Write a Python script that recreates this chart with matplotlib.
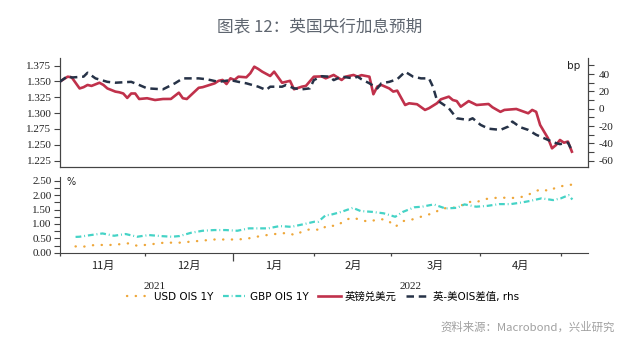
import numpy as np
import matplotlib
matplotlib.use('Agg')
import matplotlib.pyplot as plt
from matplotlib.lines import Line2D
from matplotlib.ticker import MultipleLocator, FormatStrFormatter
import matplotlib.transforms as mtrans

plt.rcParams['font.family'] = ['Liberation Serif', 'Noto Sans CJK SC']
plt.rcParams['axes.unicode_minus'] = False

# ---------------- data ----------------
gbpusd_dates = ['2021-11-05', '2021-11-09', '2021-11-10', '2021-11-12', '2021-11-15', '2021-11-16',
                '2021-11-17', '2021-11-19', '2021-11-22', '2021-11-23', '2021-11-25', '2021-11-26',
                '2021-11-29', '2021-11-30', '2021-12-01', '2021-12-02', '2021-12-03', '2021-12-07',
                '2021-12-09', '2021-12-13', '2021-12-15', '2021-12-17', '2021-12-20', '2021-12-21',
                '2021-12-24', '2021-12-27', '2021-12-28', '2021-12-30', '2021-12-31', '2022-01-03',
                '2022-01-04', '2022-01-05', '2022-01-06', '2022-01-07', '2022-01-11', '2022-01-12',
                '2022-01-13', '2022-01-14', '2022-01-17', '2022-01-19', '2022-01-20', '2022-01-24',
                '2022-01-26', '2022-01-27', '2022-01-31', '2022-02-01', '2022-02-03', '2022-02-07',
                '2022-02-08', '2022-02-10', '2022-02-14', '2022-02-15', '2022-02-17', '2022-02-18',
                '2022-02-21', '2022-02-23', '2022-02-24', '2022-02-25', '2022-02-28', '2022-03-02',
                '2022-03-03', '2022-03-04', '2022-03-08', '2022-03-09', '2022-03-11', '2022-03-15',
                '2022-03-16', '2022-03-18', '2022-03-21', '2022-03-23', '2022-03-24', '2022-03-25',
                '2022-03-28', '2022-03-30', '2022-04-01', '2022-04-06', '2022-04-07', '2022-04-11',
                '2022-04-12', '2022-04-15', '2022-04-20', '2022-04-21', '2022-04-22', '2022-04-25',
                '2022-04-27', '2022-04-28', '2022-04-29', '2022-05-02', '2022-05-03', '2022-05-04',
                '2022-05-05']
gbpusd = [1.3497, 1.3576, 1.3566, 1.339, 1.341, 1.3445,
          1.343, 1.348, 1.3445, 1.339, 1.334, 1.3329,
          1.331, 1.324, 1.331, 1.331, 1.3223, 1.3235,
          1.3207, 1.3223, 1.3224, 1.3323, 1.3235, 1.3223,
          1.340, 1.341, 1.343, 1.347, 1.351, 1.3524,
          1.346, 1.355, 1.3524, 1.3576, 1.3566, 1.363,
          1.3734, 1.3698, 1.3655, 1.3587, 1.3655, 1.348,
          1.351, 1.3377, 1.3418, 1.343, 1.3576, 1.358,
          1.355, 1.3603, 1.3524, 1.3576, 1.3603, 1.3576,
          1.360, 1.3576, 1.3298, 1.342, 1.3445, 1.339,
          1.334, 1.3355, 1.3128, 1.3155, 1.314, 1.305,
          1.3077, 1.3155, 1.3218, 1.326, 1.3207, 1.319,
          1.3101, 1.319, 1.3128, 1.3144, 1.3092, 1.302,
          1.305, 1.3065, 1.2997, 1.305, 1.302, 1.2812,
          1.2601, 1.2443, 1.2495, 1.2575, 1.2532, 1.255,
          1.239]

spread_dates = ['2021-11-05', '2021-11-09', '2021-11-10', '2021-11-15', '2021-11-16', '2021-11-18',
                '2021-11-23', '2021-11-25', '2021-12-01', '2021-12-03', '2021-12-07', '2021-12-13',
                '2021-12-16', '2021-12-20', '2021-12-24', '2021-12-28', '2021-12-31', '2022-01-05',
                '2022-01-07', '2022-01-11', '2022-01-14', '2022-01-18', '2022-01-19', '2022-01-24',
                '2022-01-25', '2022-01-27', '2022-01-31', '2022-02-02', '2022-02-03', '2022-02-07',
                '2022-02-09', '2022-02-10', '2022-02-14', '2022-02-17', '2022-02-18', '2022-02-21',
                '2022-02-23', '2022-02-25', '2022-02-28', '2022-03-02', '2022-03-04', '2022-03-08',
                '2022-03-10', '2022-03-14', '2022-03-16', '2022-03-17', '2022-03-18', '2022-03-23',
                '2022-03-25', '2022-03-30', '2022-03-31', '2022-04-04', '2022-04-06', '2022-04-11',
                '2022-04-13', '2022-04-14', '2022-04-18', '2022-04-20', '2022-04-22', '2022-04-26',
                '2022-04-27', '2022-04-29', '2022-05-02', '2022-05-04', '2022-05-05']
spread = [31, 37.7, 36, 37, 41.5, 35,
          31, 30, 31, 27.4, 23.5, 22.4,
          29.3, 35, 35, 34, 31, 33,
          31, 29.3, 25.4, 21.6, 25.4, 25.4,
          27.4, 23.5, 22.4, 23.5, 33, 37.5,
          37, 33, 37, 35, 37, 34,
          29.3, 23.5, 29.3, 31, 34, 42.6,
          37, 35, 35, 25.4, 10, 0.6,
          -11, -13, -11, -18.6, -23, -24.4,
          -20.5, -14.8, -21.3, -24.4, -30, -34,
          -36, -39.6, -40.8, -39, -48]

usd_dates = ['2021-11-05', '2021-11-09', '2021-11-12', '2021-11-18', '2021-11-22', '2021-11-25',
             '2021-11-29', '2021-12-03', '2021-12-08', '2021-12-14', '2021-12-21', '2021-12-27',
             '2022-01-03', '2022-01-06', '2022-01-12', '2022-01-17', '2022-01-21', '2022-01-25',
             '2022-01-27', '2022-01-31', '2022-02-03', '2022-02-04', '2022-02-09', '2022-02-11',
             '2022-02-15', '2022-02-17', '2022-02-21', '2022-02-24', '2022-02-28', '2022-03-02',
             '2022-03-04', '2022-03-08', '2022-03-10', '2022-03-14', '2022-03-16', '2022-03-18',
             '2022-03-23', '2022-03-25', '2022-03-29', '2022-03-31', '2022-04-04', '2022-04-06',
             '2022-04-08', '2022-04-13', '2022-04-15', '2022-04-19', '2022-04-21', '2022-04-25',
             '2022-04-27', '2022-04-29', '2022-05-03', '2022-05-05']
usd_ois = [0.22, 0.21, 0.27, 0.27, 0.29, 0.33,
           0.24, 0.30, 0.35, 0.35, 0.41, 0.46,
           0.46, 0.475, 0.58, 0.64, 0.69, 0.61,
           0.75, 0.82, 0.79, 0.93, 0.94, 1.14,
           1.22, 1.14, 1.08, 1.17, 1.14, 0.90,
           1.10, 1.14, 1.22, 1.31, 1.37, 1.54,
           1.56, 1.63, 1.77, 1.75, 1.86, 1.89,
           1.92, 1.90, 1.92, 1.97, 2.12, 2.21,
           2.14, 2.29, 2.33, 2.37]

gbp_dates = ['2021-11-05', '2021-11-08', '2021-11-11', '2021-11-16', '2021-11-19', '2021-11-24',
             '2021-11-29', '2021-12-02', '2021-12-07', '2021-12-10', '2021-12-14', '2021-12-17',
             '2021-12-22', '2021-12-27', '2021-12-30', '2022-01-04', '2022-01-07', '2022-01-11',
             '2022-01-14', '2022-01-19', '2022-01-24', '2022-01-27', '2022-02-01', '2022-02-02',
             '2022-02-04', '2022-02-07', '2022-02-10', '2022-02-15', '2022-02-17', '2022-02-22',
             '2022-02-25', '2022-03-02', '2022-03-04', '2022-03-09', '2022-03-11', '2022-03-16',
             '2022-03-21', '2022-03-24', '2022-03-28', '2022-03-31', '2022-04-05', '2022-04-08',
             '2022-04-13', '2022-04-18', '2022-04-20', '2022-04-25', '2022-04-28', '2022-05-02',
             '2022-05-04', '2022-05-05']
gbp_ois = [0.55, 0.556, 0.615, 0.67, 0.59, 0.65,
           0.556, 0.615, 0.58, 0.556, 0.58, 0.694,
           0.764, 0.788, 0.788, 0.764, 0.847, 0.847,
           0.847, 0.927, 0.90, 0.986, 1.077, 1.077,
           1.31, 1.31, 1.42, 1.56, 1.45, 1.42,
           1.37, 1.25, 1.42, 1.58, 1.60, 1.68,
           1.54, 1.56, 1.68, 1.60, 1.63, 1.69,
           1.69, 1.75, 1.80, 1.89, 1.83, 1.89,
           2.00, 1.85]

month_starts = ['2021-11-01', '2021-12-01', '2022-01-03', '2022-02-01',
                '2022-03-01', '2022-04-01', '2022-05-02']
month_labels = ['11月', '12月', '1月', '2月', '3月', '4月']
year_labels = ['2021', '2022']
axis_start, axis_end = '2021-11-05', '2022-05-11'

series_names = ['USD OIS 1Y', 'GBP OIS 1Y', '英镑兑美元', '英-美OIS差值, rhs']

title = '图表 12：英国央行加息预期'
source = '资料来源：Macrobond，兴业研究'

# ---------------- helpers ----------------
ORIGIN = '2021-11-01'


def bidx(dates):
    return np.busday_count(ORIGIN, np.array(dates, dtype='datetime64[D]')).astype(float)


c_red = '#c0314b'
c_navy = '#263247'
c_usd = '#eea73a'
c_gbp = '#45d3c6'
c_axis = '#444444'

usd_style = dict(color=c_usd, lw=1.7, linestyle=(0, (0.1, 3.6)), dash_capstyle='round')
gbp_style = dict(color=c_gbp, lw=1.6, linestyle=(0, (2.6, 1.3, 0.4, 1.3)))
red_style = dict(color=c_red, lw=1.9)
navy_style = dict(color=c_navy, lw=1.8, linestyle=(0, (3.0, 1.9)))

fig = plt.figure(figsize=(6.4, 3.52), dpi=100)
ax1 = fig.add_axes([0.094, 0.526, 0.825, 0.309])
ax2 = ax1.twinx()
ax3 = fig.add_axes([0.094, 0.282, 0.825, 0.215])

xl = (bidx([axis_start])[0] + 0.1, bidx([axis_end])[0] + 0.1)

# top panel
ax1.plot(bidx(gbpusd_dates), gbpusd, **red_style, zorder=3)
ax2.plot(bidx(spread_dates), spread, **navy_style, zorder=3)
ax1.set_xlim(*xl)
ax1.set_ylim(1.215, 1.387)
ax2.set_ylim(-67, 58.4)
ax1.yaxis.set_major_locator(MultipleLocator(0.025))
ax1.yaxis.set_major_formatter(FormatStrFormatter('%.3f'))
ax2.yaxis.set_major_locator(MultipleLocator(20))
ax2.yaxis.set_minor_locator(MultipleLocator(10))
ax1.set_xticks([])
for ax in (ax1, ax2):
    ax.spines['top'].set_visible(False)
    for s in ax.spines.values():
        s.set_color(c_axis)
        s.set_linewidth(0.8)
ax1.tick_params(axis='y', direction='out', length=4.3, width=0.8, color=c_axis,
                labelsize=8, pad=2, labelcolor='#222222')
ax2.tick_params(axis='y', which='both', direction='out', length=4.3, width=0.8, color=c_axis,
                labelsize=8, pad=3, labelcolor='#222222')
ax2.text(0.985, 0.93, 'bp', transform=ax2.transAxes, ha='right', va='center',
         fontsize=7.5, family=['DejaVu Sans'], color='#222222')

# bottom panel
ax3.plot(bidx(usd_dates), usd_ois, **usd_style)
ax3.plot(bidx(gbp_dates), gbp_ois, **gbp_style)
ax3.set_xlim(*xl)
ax3.set_ylim(0, 2.63)
ax3.yaxis.set_major_locator(MultipleLocator(0.5))
ax3.yaxis.set_minor_locator(MultipleLocator(0.25))
ax3.yaxis.set_major_formatter(FormatStrFormatter('%.2f'))
ax3.spines['top'].set_visible(False)
ax3.spines['right'].set_visible(False)
for s in ax3.spines.values():
    s.set_color(c_axis)
    s.set_linewidth(0.8)
ax3.tick_params(axis='y', which='both', direction='out', length=4.3, width=0.8, color=c_axis,
                labelsize=8, pad=2, labelcolor='#222222')
ms = bidx(month_starts)
year_break = bidx(['2022-01-03'])[0]
ax3.set_xticks([m for m in ms if m != year_break])
ax3.set_xticks([year_break], minor=True)
ax3.tick_params(axis='x', which='major', direction='out', length=2.5, width=0.9,
                color=c_axis, labelbottom=False)
ax3.tick_params(axis='x', which='minor', direction='out', length=5.5, width=0.9,
                color=c_axis, labelbottom=False)
ax3.text(0.012, 0.93, '%', transform=ax3.transAxes, ha='left', va='center',
         fontsize=7, family=['DejaVu Sans'], color='#222222')

trans = mtrans.blended_transform_factory(ax3.transData, ax3.transAxes)
for i, lab in enumerate(month_labels):
    ax3.text((ms[i] + ms[i + 1]) / 2, -0.17, lab, transform=trans, ha='center', va='center',
             fontsize=8, color='#222222', family=['Noto Sans CJK SC'])
ax3.text((xl[0] + year_break) / 2, -0.44, year_labels[0], transform=trans, ha='center',
         va='center', fontsize=8, color='#222222')
ax3.text((year_break + xl[1]) / 2, -0.44, year_labels[1], transform=trans, ha='center',
         va='center', fontsize=8, color='#222222')

# legend
handles = [Line2D([], [], **usd_style), Line2D([], [], **gbp_style),
           Line2D([], [], **red_style), Line2D([], [], **navy_style)]
fig.legend(handles, series_names, loc='center', bbox_to_anchor=(0.505, 0.157), ncol=4,
           frameon=False, prop={'family': ['DejaVu Sans', 'Noto Sans CJK SC'], 'size': 7.5},
           handlelength=2.2, handletextpad=0.4, columnspacing=0.9)

fig.text(0.5, 0.925, title, ha='center', va='center', fontsize=12,
         color='#5f6670', family=['Noto Sans CJK SC'], fontweight='medium')
fig.text(0.961, 0.071, source, ha='right', va='center', fontsize=8.2,
         color='#a0a0a0', family=['Noto Sans CJK SC'])

fig.savefig('out.png', dpi=100)
